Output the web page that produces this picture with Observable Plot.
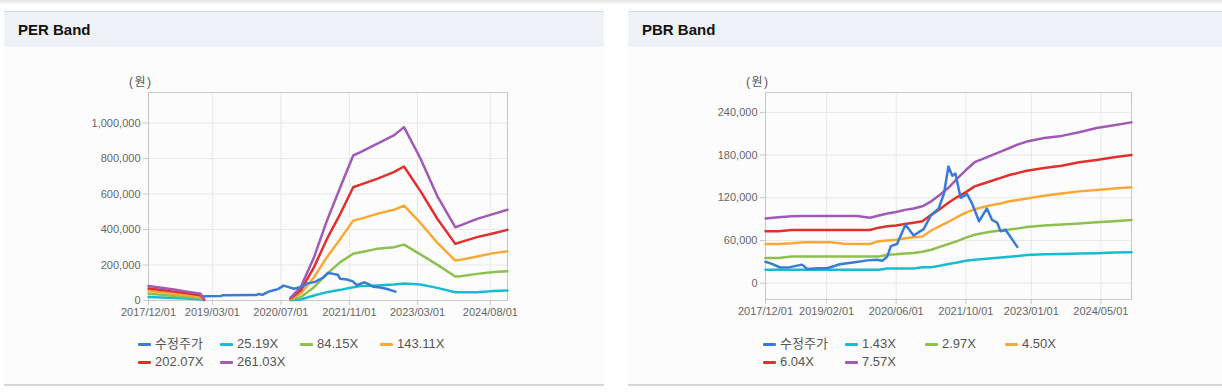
<!DOCTYPE html>
<html><head><meta charset="utf-8">
<script src="https://cdn.jsdelivr.net/npm/d3@7"></script>
<script src="https://cdn.jsdelivr.net/npm/@observablehq/plot@0.6"></script>
<style>
body{margin:0;width:1222px;height:392px;background:#fff;position:relative;overflow:hidden;font-family:Arial,"Liberation Sans","Noto Sans CJK KR",sans-serif;}
.shadow{position:absolute;left:0;top:0;width:1222px;height:5px;background:linear-gradient(#e2e2e2,rgba(255,255,255,0));}
.panel{position:absolute;top:11px;height:373px;background:#fcfcfc;border-bottom:2px solid #d6d6d6;}
.head{height:35px;background:#eef1f6;border-top:1px solid #d3d6da;font-weight:bold;font-size:15px;line-height:36px;padding-left:14px;color:#111;}
.unit{position:absolute;top:72px;font-size:12px;color:#555;letter-spacing:1.5px;font-family:Arial,"Noto Sans CJK KR",sans-serif;}
.plot{position:absolute;top:60px;}
.legend{position:absolute;top:335px;display:grid;grid-template-columns:82px 80px 80px auto;font-size:13px;color:#555;line-height:18px;font-family:Arial,"Liberation Sans","Noto Sans CJK KR",sans-serif;}
.item{display:flex;align-items:center;white-space:nowrap;}
.sw{width:13px;height:3px;border-radius:1px;margin-right:4px;}
</style></head>
<body>
<div class="shadow"></div>
<div class="panel" style="left:4px;width:600px;"><div class="head">PER Band</div></div>
<div class="panel" style="left:628px;width:594px;"><div class="head">PBR Band</div></div>
<div class="unit" style="left:129px;">(원)</div>
<div class="unit" style="left:746px;">(원)</div>
<div id="per" class="plot" style="left:60px;"></div>
<div id="pbr" class="plot" style="left:680px;"></div>
<div id="perLegend" class="legend" style="left:138px;"></div>
<div id="pbrLegend" class="legend" style="left:763px;"></div>
<script>
const priceColor = "#3a7bd5";
const bandColors = ["#17bcd2", "#8dc04e", "#f9a836", "#e0302c", "#a05ab5"];

const perLabels = ["수정주가", "25.19X", "84.15X", "143.11X", "202.07X", "261.03X"];
const pbrLabels = ["수정주가", "1.43X", "2.97X", "4.50X", "6.04X", "7.57X"];

const xDomainDates = ["2017-12-01", "2024-12-01"];
const perXTicks = ["2017-12-01","2019-03-01","2020-07-01","2021-11-01","2023-03-01","2024-08-01"];
const pbrXTicks = ["2017-12-01","2019-02-01","2020-06-01","2021-10-01","2023-01-01","2024-05-01"];
const perYTicks = [0, 200000, 400000, 600000, 800000, 1000000];
const pbrYTicks = [0, 60000, 120000, 180000, 240000];

// PER band
const perBandDates = ["2017-12-01","2018-03-01","2018-06-01","2018-09-01","2018-12-07","2019-01-01",
  "2019-06-01",
  "2020-09-07","2020-11-19","2021-02-22","2021-05-25","2021-08-28","2021-11-28","2022-01-19","2022-05-16",
  "2022-09-13","2022-11-25","2023-03-22","2023-07-19","2023-11-25","2024-01-01","2024-04-28","2024-08-25","2024-12-01"];
const per25 = [20000,17000,14000,11000,7000,1000, null,
  2000,6000,28000,47000,60000,75000,81000,85000,90000,96000,90000,71000,47000,47000,47000,53000,56000];
const per84 = [38000,32000,26000,20000,14000,2500, null,
  5000,19000,75000,150000,216000,263000,272000,291000,300000,315000,260000,202000,135000,137000,150000,160000,165000];
const per143 = [54000,46000,38000,30000,22000,4000, null,
  8000,38000,131000,244000,347000,450000,460000,488000,511000,535000,437000,326000,225000,229000,248000,267000,278000];
const per202 = [68000,59000,50000,41000,30000,6000, null,
  11000,56000,188000,347000,488000,638000,653000,685000,723000,755000,616000,462000,319000,329000,357000,379000,398000];
const per261 = [82000,72000,62000,50000,38000,8000, null,
  15000,75000,244000,450000,638000,817000,836000,883000,930000,977000,800000,590000,413000,423000,460000,488000,511000];

const perPriceDates = ["2019-01-01","2019-05-01","2019-05-15","2020-01-10","2020-01-25","2020-02-20","2020-04-05",
  "2020-05-10","2020-06-10","2020-07-20","2020-08-20","2020-10-01","2020-11-01","2020-12-01","2021-01-01",
  "2021-03-01","2021-05-01","2021-06-01","2021-07-10","2021-08-10","2021-08-28","2021-10-15","2021-11-25",
  "2021-12-25","2022-02-12","2022-03-10","2022-04-22","2022-06-10","2022-07-27","2022-09-25"];
const perPrice = [24000,25000,30000,31000,37000,32000,50000,
  58000,64000,84000,77000,66000,72000,78000,95000,
  105000,131000,155000,150000,145000,122000,118000,108000,
  86000,102000,95000,77000,73000,65000,50000];

// PBR band
const pbrBandDates = ["2017-12-01","2018-03-01","2018-06-01","2018-09-01","2018-12-01","2019-03-01","2019-06-01",
  "2019-09-01","2019-12-01","2020-02-01","2020-04-01","2020-06-01","2020-08-01","2020-10-01","2020-12-01",
  "2021-02-01","2021-04-01","2021-06-01","2021-08-01","2021-10-01","2021-12-01","2022-02-01","2022-04-01",
  "2022-06-01","2022-08-01","2022-10-01","2022-12-01","2023-04-01","2023-08-01","2023-12-01","2024-04-01",
  "2024-08-01","2024-12-01"];
const pbr143 = [18700,18700,18700,18700,18700,18700,18700,18700,18700,18700,
  20500,20500,20500,20500,22400,22400,24500,27000,29000,31500,33000,34000,35000,36000,37000,38000,39500,
  40500,41000,41500,42000,43000,43500];
const pbr297 = [35500,35500,37400,37400,37400,37400,37400,37400,37400,37400,
  40000,40500,41500,42500,44000,47000,51000,55000,59000,64000,68000,70500,72500,74000,75500,77000,79000,
  81000,82300,84000,85600,87000,88900];
const pbr450 = [55000,55000,56000,57500,57500,57500,55500,55000,55000,59000,
  60000,61000,63000,64500,65500,74000,80000,86000,93000,99000,104000,107000,110000,112000,115000,117000,119000,
  123000,126000,129000,131000,133000,134700];
const pbr604 = [73000,73000,74800,74800,74800,74800,74800,74800,74800,78000,
  80000,81000,83000,85000,87000,96000,104000,113000,121000,128000,136000,140000,144000,148000,152000,155000,158000,
  162000,165000,170000,173000,177000,180000];
const pbr757 = [91000,92500,94000,94500,94500,94500,94500,94500,92000,95000,
  98000,100000,103000,105000,108000,115000,124000,134000,147000,159000,170000,175000,180000,185000,190000,195000,199000,
  204000,207000,212000,218000,222000,226000];

const pbrPriceDates = ["2017-12-01","2018-01-15","2018-03-13","2018-05-22","2018-08-13","2018-09-19","2018-12-01",
  "2019-02-05","2019-05-05","2019-08-05","2019-11-13","2020-01-19","2020-02-25","2020-03-30","2020-04-25",
  "2020-06-07","2020-08-05","2020-10-01","2020-12-10","2021-01-28","2021-03-25","2021-05-01","2021-06-01",
  "2021-06-28","2021-07-20","2021-08-25","2021-10-10","2021-11-15","2022-01-01","2022-02-25","2022-04-01",
  "2022-05-07","2022-06-01","2022-07-05","2022-09-25"];
const pbrPrice = [30000,27000,22000,22500,26000,20000,21000,
  21000,26500,29000,32000,33000,31500,37000,52000,
  55000,82000,67000,76000,95000,105000,126000,164000,
  151000,154000,120000,125000,111000,87000,105000,89000,
  85000,73000,75000,51000];

const parse = d3.utcParse("%Y-%m-%d");
const rows = (dates, values) => dates.map((d, i) => ({date: parse(d), value: values[i]}));

function chart(cfg) {
  const xt = cfg.xTicks.map(parse);
  return Plot.plot({
    width: 470, height: 270,
    marginLeft: cfg.ml, marginRight: cfg.mr, marginTop: cfg.mt, marginBottom: cfg.mb,
    style: {background: "transparent", fontFamily: "Arial, 'Liberation Sans', sans-serif", fontSize: "11px", overflow: "visible"},
    x: {type: "utc", domain: xDomainDates.map(parse), label: null},
    y: {domain: cfg.yDomain, label: null},
    marks: [
      Plot.gridX(xt, {stroke: "#e8e8e8", strokeOpacity: 1}),
      Plot.gridY(cfg.yTicks, {stroke: "#e8e8e8", strokeOpacity: 1}),
      Plot.frame({stroke: "#c8c8c8"}),
      Plot.axisX(xt, {tickSize: 5, tickPadding: 3, tickFormat: d3.utcFormat("%Y/%m/%d"), stroke: "#c8c8c8", fill: "#666", label: null}),
      Plot.axisY(cfg.yTicks, {tickSize: 5, tickPadding: 3, tickFormat: d3.format(","), stroke: "#c8c8c8", fill: "#666", label: null}),
      ...cfg.bands.map((vals, i) => Plot.line(rows(cfg.bandDates, vals), {x: "date", y: "value", stroke: bandColors[i], strokeWidth: 2.5})),
      Plot.line(rows(cfg.priceDates, cfg.price), {x: "date", y: "value", stroke: priceColor, strokeWidth: 2.5})
    ]
  });
}

document.getElementById("per").append(chart({
  ml: 88, mr: 23, mt: 32, mb: 30,
  xTicks: perXTicks, yTicks: perYTicks, yDomain: [0, 1172000],
  bandDates: perBandDates, bands: [per25, per84, per143, per202, per261],
  priceDates: perPriceDates, price: perPrice
}));
document.getElementById("pbr").append(chart({
  ml: 85, mr: 19, mt: 32, mb: 31,
  xTicks: pbrXTicks, yTicks: pbrYTicks, yDomain: [-23000, 268000],
  bandDates: pbrBandDates, bands: [pbr143, pbr297, pbr450, pbr604, pbr757],
  priceDates: pbrPriceDates, price: pbrPrice
}));

function legend(id, labels) {
  const colors = [priceColor, ...bandColors];
  const el = document.getElementById(id);
  labels.forEach((l, i) => {
    const it = document.createElement("div");
    it.className = "item";
    it.innerHTML = `<span class="sw" style="background:${colors[i]}"></span><span>${l}</span>`;
    el.append(it);
  });
}
legend("perLegend", perLabels);
legend("pbrLegend", pbrLabels);
</script>
</body></html>
